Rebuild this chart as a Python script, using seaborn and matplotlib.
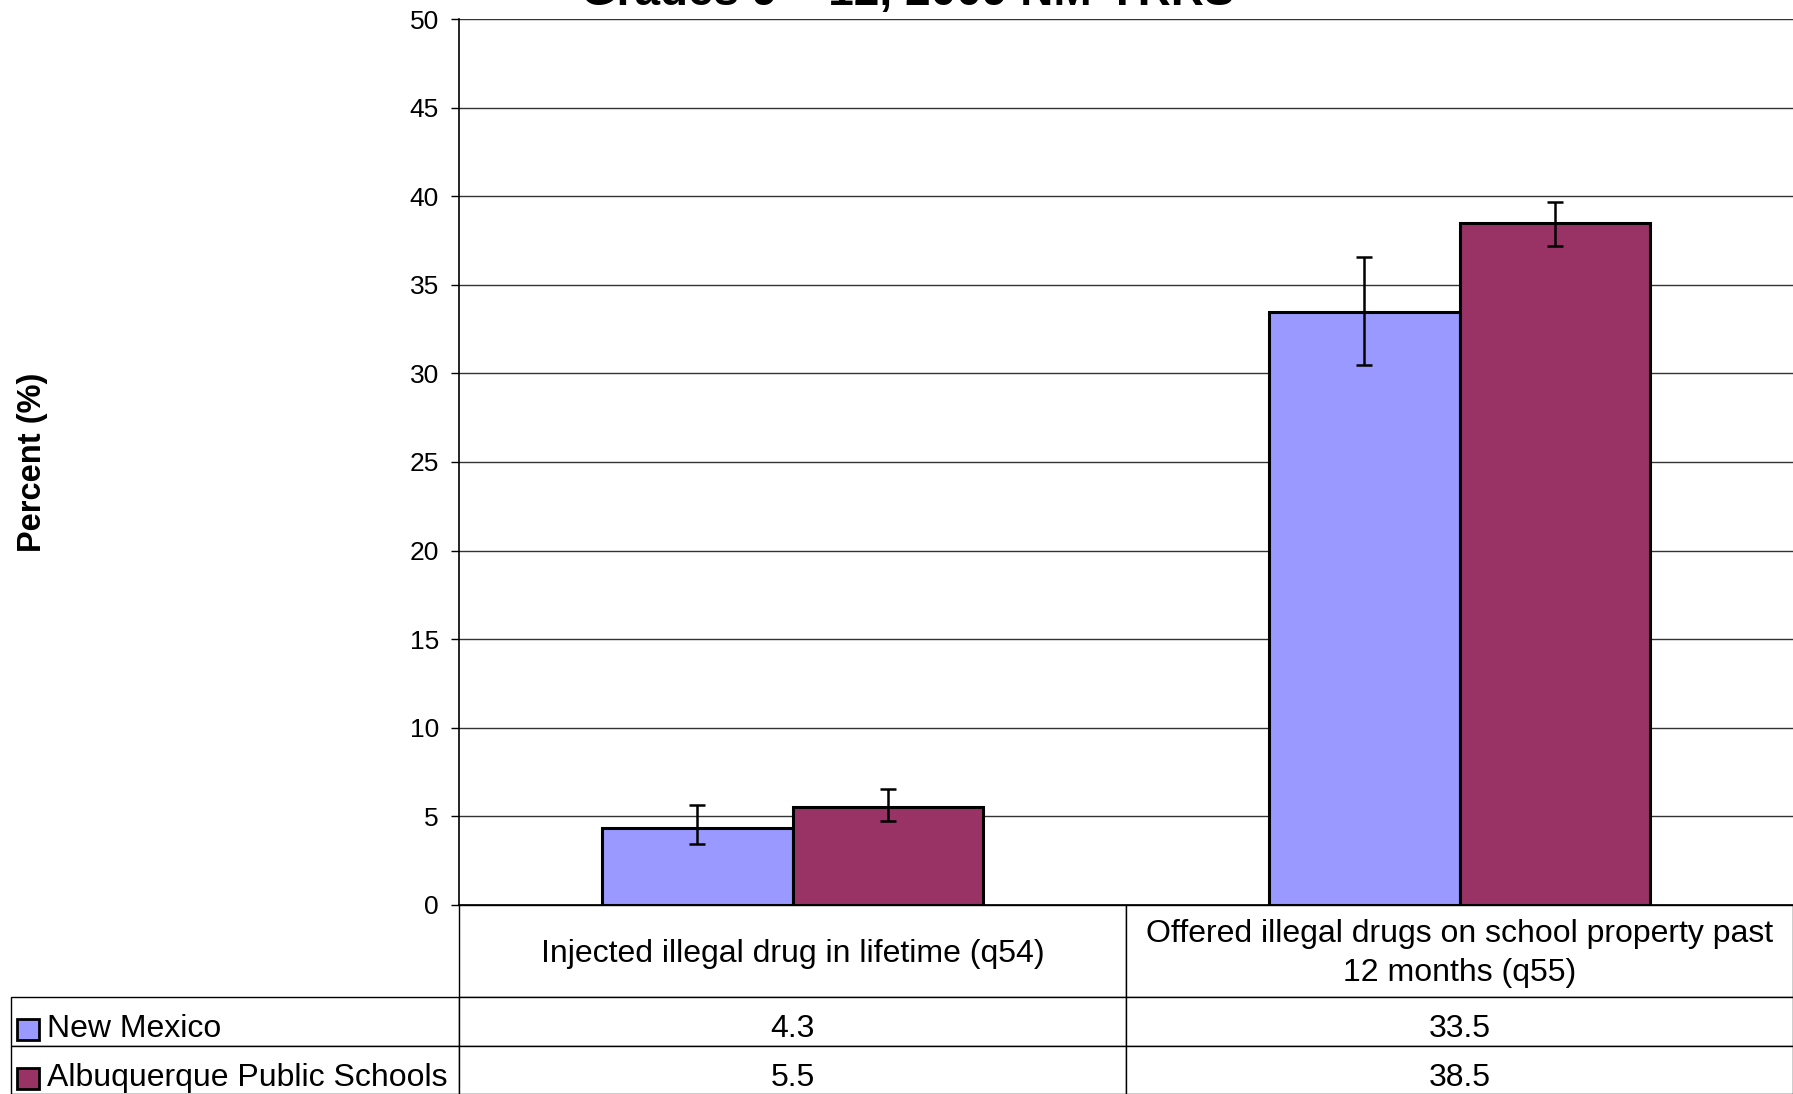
import pandas as pd
import numpy as np

import matplotlib.pyplot as plt
import matplotlib.transforms as mtransforms
from matplotlib.patches import Rectangle
import seaborn as sns

# ==========================================
# DATA
# ==========================================

questions = [
    "Injected illegal drug in lifetime (q54)",
    "Offered illegal drugs on school property past\n12 months (q55)"
]

areas = ["New Mexico", "Albuquerque Public Schools"]

nm_values = [4.3, 33.5]
aps_values = [5.5, 38.5]

# confidence interval ends
nm_lower = [3.4, 30.5]
nm_upper = [5.6, 36.6]
aps_lower = [4.7, 37.2]
aps_upper = [6.5, 39.7]

colors = ["#9999FF", "#993366"]

title = "Grades 9 \u2013 12, 2009 NM-YRRS"

# ==========================================
# FRAME
# ==========================================

df = pd.DataFrame({
    'question': questions * 2,
    'area': [areas[0]] * 2 + [areas[1]] * 2,
    'percent': nm_values + aps_values
})

sns.set_style("white")
plt.rcParams['font.family'] = ['Liberation Sans', 'DejaVu Sans']
plt.rcParams['text.color'] = 'black'
plt.rcParams['axes.labelcolor'] = 'black'
plt.rcParams['ytick.color'] = 'black'

fig = plt.figure(figsize=(17.93, 10.94), dpi=100)
ax = fig.add_axes([0.256, 0.1732, 0.744, 0.809])

# ==========================================
# BARS
# ==========================================

sns.barplot(
    data=df,
    x='question',
    y='percent',
    hue='area',
    hue_order=areas,
    order=questions,
    palette=colors,
    edgecolor='black',
    linewidth=2.2,
    width=0.57,
    errorbar=None,
    legend=False,
    saturation=1,
    zorder=3,
    ax=ax
)

lowers = [nm_lower, aps_lower]
uppers = [nm_upper, aps_upper]
vals = [nm_values, aps_values]

for container, lo, hi, v in zip(ax.containers, lowers, uppers, vals):
    xs = [b.get_x() + b.get_width() / 2 for b in container]
    v = np.array(v)
    yerr = [v - np.array(lo), np.array(hi) - v]
    ax.errorbar(
        xs, v, yerr=yerr,
        fmt='none', ecolor='black',
        elinewidth=1.8, capsize=6, capthick=1.8,
        zorder=4
    )

# ==========================================
# AXES
# ==========================================

ax.set_ylim(0, 50)
ax.set_xlim(-0.5, 1.5)
ax.set_yticks(np.arange(0, 51, 5))
ax.yaxis.grid(True, color='#333333', linewidth=1.0, zorder=0)
ax.set_axisbelow(True)

ax.set_xticks([])
ax.set_xlabel("")
ax.tick_params(axis='y', direction='out', length=5.5, width=1,
               pad=9, labelsize=19, left=True, colors='black')

for side in ['top', 'right']:
    ax.spines[side].set_visible(False)
ax.spines['left'].set_color('black')
ax.spines['left'].set_linewidth(1.2)
ax.spines['bottom'].set_color('black')
ax.spines['bottom'].set_linewidth(1.2)

ax.set_ylabel("Percent (%)", fontsize=23.5, fontweight='bold')
ax.yaxis.set_label_coords(-0.308, 0.5)

fig.text(0.506, 0.9958, title, ha='center', va='baseline',
         fontsize=33, fontweight='bold')

# ==========================================
# DATA TABLE
# ==========================================

cell_text = [
    [f"{x:.1f}" for x in nm_values],
    [f"{x:.1f}" for x in aps_values]
]

table = ax.table(
    cellText=cell_text,
    rowLabels=areas,
    colLabels=questions,
    cellLoc='center',
    rowLoc='left',
    colLoc='center',
    colWidths=[0.5, 0.5],
    bbox=[0, -0.2141, 1, 0.2141]
)

table.auto_set_font_size(False)
table.set_fontsize(23)
# fixed width for the row label column instead of auto sizing
table._autoColumns = []

for (r, c), cell in table.get_celld().items():
    cell.set_edgecolor('black')
    cell.set_linewidth(1)
    txt = cell.get_text()
    txt.set_color('black')
    if r == 0:
        cell.set_height(92.5)
        txt.set_linespacing(1.4)
        txt.set_transform(mtransforms.Affine2D().translate(0, -3))
    else:
        cell.set_height(48.5)
        txt.set_transform(mtransforms.Affine2D().translate(0, -8))
    if c == -1:
        cell.set_width(0.3355)
        cell.PAD = 0.08

fig.canvas.draw()

# legend keys inside the row label cells
for r, color in enumerate(colors, start=1):
    cell = table[(r, -1)]
    x0 = cell.get_x()
    y0 = cell.get_y()
    h = cell.get_height()
    ax.add_patch(Rectangle(
        (x0 + 0.0045, y0 + h * 0.5 - 0.0215),
        0.0165, 0.024,
        facecolor=color, edgecolor='black', linewidth=2,
        transform=ax.transAxes, clip_on=False, zorder=5
    ))

plt.savefig("out.png", dpi=100)
plt.close()
